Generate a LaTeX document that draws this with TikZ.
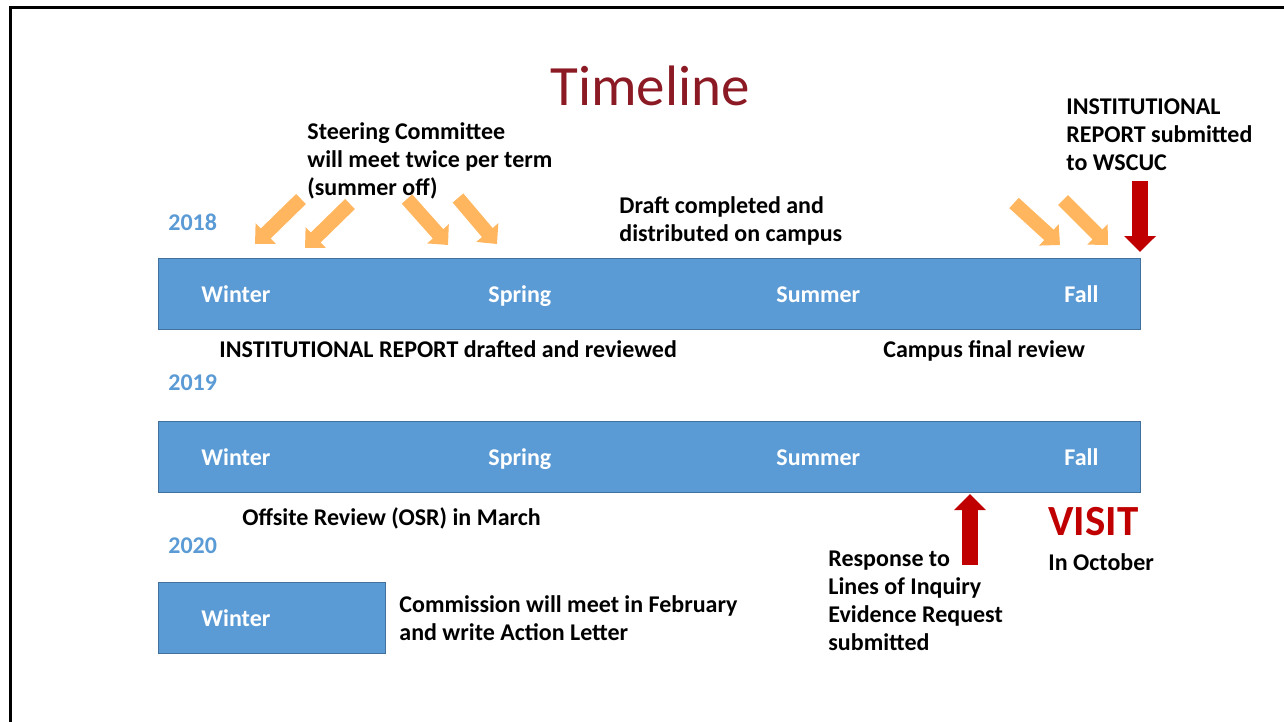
\documentclass[tikz,border=0pt]{standalone}
\usepackage{fontspec}
\setmainfont{Carlito}
\usetikzlibrary{arrows.meta}

\definecolor{barblue}{HTML}{5B9BD5}
\definecolor{barline}{HTML}{41719C}
\definecolor{pointer}{HTML}{FFB65F}
\definecolor{alert}{HTML}{C00000}
\definecolor{titlered}{HTML}{8B1A24}

\begin{document}
\begin{tikzpicture}[
  x=0.5pt, y=-0.5pt,
  every node/.style={font=\fontsize{12}{14}\selectfont\bfseries, inner sep=0pt, anchor=base west, align=left},
  bar/.style={draw=barline, line width=0.6pt, fill=barblue, anchor=north west, minimum height=35.5pt},
  season/.style={text=white},
  year/.style={text=barblue},
  ochre/.style={draw=pointer, line width=7pt, -{Triangle[width=14pt,length=7.5pt]}},
  redarr/.style={draw=alert, line width=8pt, -{Triangle[width=15.5pt,length=8pt]}}
]
\useasboundingbox (0,0) rectangle (1284,722);
\draw[line width=1.5pt] (10,730) -- (10,8) -- (1290,8);

\node[font=\fontsize{28.5}{32}\selectfont, text=titlered] (title) at (550,105) {Timeline};

% the three bars
\node[bar, minimum width=491pt] (bar18) at (158,258) {};
\node[bar, minimum width=491pt] (bar19) at (158,421) {};
\node[bar, minimum width=113.5pt] (bar20) at (158,582) {};
\foreach \s/\x in {Winter/201, Spring/488, Summer/776, Fall/1064} {
  \node[season] (s18\s) at (\x,302) {\s};
  \node[season] (s19\s) at (\x,465) {\s};
}
\node[season] (s20Winter) at (201,626) {Winter};

% years
\node[year] (y18) at (168,230) {2018};
\node[year] (y19) at (168,390) {2019};
\node[year] (y20) at (168,553) {2020};

% notes (base = last line)
\node (steer) at (307,195) {Steering Committee\\will meet twice per term\\(summer off)};
\node (draft) at (619,241) {Draft completed and\\distributed on campus};
\node (submit) at (1066,170) {INSTITUTIONAL\\REPORT submitted\\to WSCUC};
\node (drafted) at (219,357) {INSTITUTIONAL REPORT drafted and reviewed};
\node (final) at (883,357) {Campus final review};
\node (osr) at (242,525) {Offsite Review (OSR) in March};
\node[text height=9.5pt] (resp) at (828,650) {Response to\\Lines of Inquiry\\Evidence Request\\submitted};
\node[font=\fontsize{21.5}{24}\selectfont\bfseries, text=alert] (visit) at (1048,535) {VISIT};
\node (oct) at (1048,570) {In October};
\node (comm) at (399,640) {Commission will meet in February\\and write Action Letter};

% pointers
\coordinate (p1) at (301,199); \coordinate (q1) at (255,244);
\coordinate (p2) at (350,204); \coordinate (q2) at (305,248);
\coordinate (p3) at (407,199); \coordinate (q3) at (448,245);
\coordinate (p4) at (458,198); \coordinate (q4) at (497,244);
\coordinate (p5) at (1014,203); \coordinate (q5) at (1060,245);
\coordinate (p6) at (1063,200); \coordinate (q6) at (1108,245);
\foreach \i in {1,...,6} \draw[ochre] (p\i) -- (q\i);

\coordinate (r1) at (1140,181); \coordinate (t1) at (1140,252);
\coordinate (r2) at (970,565); \coordinate (t2) at (970,494);
\draw[redarr] (r1) -- (t1);
\draw[redarr] (r2) -- (t2);
\end{tikzpicture}
\end{document}
